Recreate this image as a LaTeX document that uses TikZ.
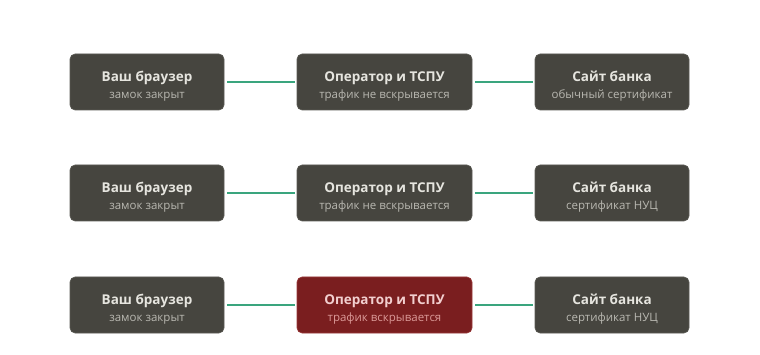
\documentclass[tikz,border=0pt]{standalone}
\usepackage{fontspec}
\setmainfont{Open Sans}
\usetikzlibrary{positioning}
\definecolor{boxgray}{HTML}{46453F}
\definecolor{boxred}{HTML}{7A1E1F}
\definecolor{rimgray}{HTML}{5C5B55}
\definecolor{rimred}{HTML}{9A3A3A}
\definecolor{linkgreen}{HTML}{3AA57E}
\definecolor{headlt}{HTML}{E6E5DF}
\definecolor{sublt}{HTML}{B9B8B1}
\definecolor{headred}{HTML}{F2CFCF}
\definecolor{subred}{HTML}{DB9A98}

\tikzset{
  hop/.style={draw=rimgray, line width=0.6pt, fill=boxgray, rounded corners=5pt,
    minimum height=56pt, inner sep=0pt, align=center},
  hopred/.style={hop, draw=rimred, fill=boxred},
  link/.style={linkgreen, line width=2pt, shorten <=3pt, shorten >=2pt}
}
\newcommand{\hoptext}[4]{{\color{#3}\fontsize{13.5}{15}\bfseries\rule{0pt}{19pt}#1}\\[5pt]{\color{#4}\fontsize{11.5}{13}\selectfont #2}}

\begin{document}
\begin{tikzpicture}[x=1pt, y=-1pt]

% Canvas
\useasboundingbox (0,0) rectangle (760,355);

% --- Row 1: ordinary certificate ---
\node[hop, minimum width=154pt] (br1) at (147,82)
  {\hoptext{Ваш браузер}{замок закрыт}{headlt}{sublt}};
\node[hop, minimum width=175pt] (op1) at (384.5,82)
  {\hoptext{Оператор и ТСПУ}{трафик не вскрывается}{headlt}{sublt}};
\node[hop, minimum width=154pt] (bk1) at (612,82)
  {\hoptext{Сайт банка}{обычный сертификат}{headlt}{sublt}};
\draw[link] (br1) -- (op1);
\draw[link] (op1) -- (bk1);

% --- Row 2: NUC certificate, traffic untouched ---
\node[hop, minimum width=154pt] (br2) at (147,193)
  {\hoptext{Ваш браузер}{замок закрыт}{headlt}{sublt}};
\node[hop, minimum width=175pt] (op2) at (384.5,193)
  {\hoptext{Оператор и ТСПУ}{трафик не вскрывается}{headlt}{sublt}};
\node[hop, minimum width=154pt] (bk2) at (612,193)
  {\hoptext{Сайт банка}{сертификат НУЦ}{headlt}{sublt}};
\draw[link] (br2) -- (op2);
\draw[link] (op2) -- (bk2);

% --- Row 3: NUC certificate, traffic opened ---
\node[hop, minimum width=154pt] (br3) at (147,305)
  {\hoptext{Ваш браузер}{замок закрыт}{headlt}{sublt}};
\node[hopred, minimum width=175pt] (op3) at (384.5,305)
  {\hoptext{Оператор и ТСПУ}{трафик вскрывается}{headred}{subred}};
\node[hop, minimum width=154pt] (bk3) at (612,305)
  {\hoptext{Сайт банка}{сертификат НУЦ}{headlt}{sublt}};
\draw[link] (br3) -- (op3);
\draw[link] (op3) -- (bk3);

\end{tikzpicture}
\end{document}
